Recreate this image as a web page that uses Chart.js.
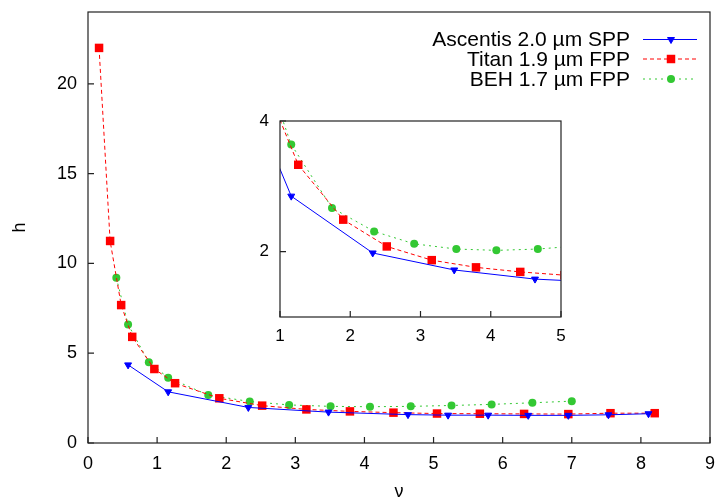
<!DOCTYPE html>
<html lang="en">
<head>
<meta charset="UTF-8">
<title>h vs reduced velocity</title>
<style>
  body { margin: 0; background: #fff; }
  #wrap { position: relative; width: 717px; height: 499px; }
  #main { position: absolute; left: 0; top: 0; }
  #inset { position: absolute; left: 240px; top: 110px; }
</style>
</head>
<body>
<div id="wrap">
  <canvas id="main" width="717" height="499"></canvas>
  <canvas id="inset" width="330" height="240"></canvas>
</div>

<script src="https://cdn.jsdelivr.net/npm/chart.js"></script>
<script>
  // values
  const ascentisX = [0.58, 1.16, 2.32, 3.48, 4.63, 5.21, 5.79, 6.37, 6.95, 7.53, 8.11];
  const ascentisH = [4.35, 2.85, 1.98, 1.72, 1.58, 1.55, 1.55, 1.54, 1.54, 1.57, 1.63];

  const titanX = [0.16, 0.32, 0.48, 0.64, 0.96, 1.26, 1.90, 2.52, 3.16, 3.79, 4.42, 5.05, 5.67, 6.31, 6.95, 7.56, 8.20];
  const titanH = [22.0, 11.25, 7.68, 5.91, 4.12, 3.33, 2.49, 2.08, 1.87, 1.76, 1.69, 1.64, 1.63, 1.62, 1.61, 1.66, 1.66];

  const behX = [0.41, 0.58, 0.88, 1.16, 1.74, 2.34, 2.91, 3.51, 4.08, 4.67, 5.26, 5.84, 6.43, 7.00];
  const behH = [9.2, 6.6, 4.5, 3.64, 2.67, 2.31, 2.12, 2.04, 2.02, 2.04, 2.09, 2.15, 2.24, 2.33];

  const seriesLabels = ['Ascentis 2.0 \u00b5m SPP', 'Titan 1.9 \u00b5m FPP', 'BEH 1.7 \u00b5m FPP'];

  const mainXTicks = [0, 1, 2, 3, 4, 5, 6, 7, 8, 9];
  const mainYTicks = [0, 5, 10, 15, 20];
  const insetXTicks = [1, 2, 3, 4, 5];
  const insetYTicks = [2, 4];

  Chart.defaults.font.family = "'Liberation Sans', Arial, sans-serif";
  Chart.defaults.color = '#000';

  function pts(xs, ys) {
    return xs.map((x, i) => ({ x: x, y: ys[i] }));
  }

  function makeDatasets() {
    return [
      {
        label: seriesLabels[0], data: pts(ascentisX, ascentisH),
        borderColor: '#0000ff', backgroundColor: '#0000ff', borderWidth: 1,
        pointStyle: 'triangle', pointRotation: 180, pointRadius: 4, pointBorderWidth: 1
      },
      {
        label: seriesLabels[1], data: pts(titanX, titanH),
        borderColor: '#ff0000', backgroundColor: '#ff0000', borderWidth: 1, borderDash: [4, 3],
        pointStyle: 'rect', pointRadius: 6, pointBorderWidth: 0
      },
      {
        label: seriesLabels[2], data: pts(behX, behH),
        borderColor: '#33c833', backgroundColor: '#33c833', borderWidth: 1, borderDash: [2, 4],
        pointStyle: 'circle', pointRadius: 4, pointBorderWidth: 0
      }
    ];
  }

  // box frame + inward tick marks
  const framePlugin = {
    id: 'frame',
    afterDraw(chart, args, opts) {
      const ctx = chart.ctx, a = chart.chartArea;
      const len = opts.tickLen || 6;
      ctx.save();
      ctx.strokeStyle = '#222';
      ctx.lineWidth = 1.2;
      ctx.setLineDash([]);
      ctx.beginPath();
      const xs = chart.scales.x, ys = chart.scales.y;
      xs.ticks.forEach((t, i) => {
        const px = xs.getPixelForTick(i);
        ctx.moveTo(px, a.bottom);
        ctx.lineTo(px, a.bottom - len);
      });
      ys.ticks.forEach((t, i) => {
        const py = ys.getPixelForTick(i);
        ctx.moveTo(a.left, py);
        ctx.lineTo(a.left + len, py);
      });
      ctx.stroke();
      ctx.strokeRect(a.left, a.top, a.right - a.left, a.bottom - a.top);
      ctx.restore();
    }
  };

  const titlesPlugin = {
    id: 'titles',
    afterDraw(chart) {
      const ctx = chart.ctx, a = chart.chartArea;
      ctx.save();
      ctx.fillStyle = '#000';
      ctx.font = "18px 'Liberation Sans', Arial, sans-serif";
      ctx.textAlign = 'center';
      ctx.textBaseline = 'middle';
      ctx.fillText('\u03bd', (a.left + a.right) / 2, 492);
      ctx.translate(20, (a.top + a.bottom) / 2);
      ctx.rotate(-Math.PI / 2);
      ctx.fillText('h', 0, 0);
      ctx.restore();
    }
  };

  const keyPlugin = {
    id: 'key',
    afterDraw(chart) {
      const ctx = chart.ctx;
      const rows = [39.5, 59, 79];
      ctx.save();
      chart.data.datasets.forEach((ds, i) => {
        const y = rows[i];
        ctx.fillStyle = '#000';
        ctx.font = "21px 'Liberation Sans', Arial, sans-serif";
        ctx.textAlign = 'right';
        ctx.textBaseline = 'middle';
        ctx.fillText(ds.label, 630, y + 1);
        ctx.strokeStyle = ds.borderColor;
        ctx.lineWidth = ds.borderWidth;
        ctx.setLineDash(ds.borderDash || []);
        ctx.beginPath();
        ctx.moveTo(643, y);
        ctx.lineTo(697, y);
        ctx.stroke();
        ctx.setLineDash([]);
        ctx.fillStyle = ds.backgroundColor;
        ctx.strokeStyle = ds.borderColor;
        Chart.helpers.drawPoint(ctx, {
          pointStyle: ds.pointStyle, radius: ds.pointRadius,
          rotation: ds.pointRotation || 0, borderWidth: ds.pointBorderWidth
        }, 671, y);
      });
      ctx.restore();
    }
  };

  function axis(min, max, ticks, size, pad, fit) {
    return {
      type: 'linear', min: min, max: max,
      afterBuildTicks: s => { s.ticks = ticks.map(v => ({ value: v })); },
      afterFit: s => {
        fit(s);
        s.paddingTop = 0; s.paddingBottom = 0; s.paddingLeft = 0; s.paddingRight = 0;
      },
      grid: { display: false, drawTicks: false },
      border: { display: false },
      ticks: { padding: pad, font: { size: size }, maxRotation: 0, autoSkip: false }
    };
  }

  new Chart(document.getElementById('main'), {
    type: 'line',
    data: { datasets: makeDatasets() },
    options: {
      responsive: false, animation: false,
      layout: { padding: { top: 12, right: 7, left: 0, bottom: 0 } },
      plugins: { legend: { display: false }, tooltip: { enabled: false }, frame: { tickLen: 6 } },
      scales: {
        x: axis(0, 9, mainXTicks, 18, 10, s => { s.height = 56; }),
        y: axis(0, 24, mainYTicks, 18, 11, s => { s.width = 88; })
      }
    },
    plugins: [framePlugin, titlesPlugin, keyPlugin]
  });

  new Chart(document.getElementById('inset'), {
    type: 'line',
    data: { datasets: makeDatasets() },
    options: {
      responsive: false, animation: false,
      layout: { padding: { top: 11, right: 9, left: 0, bottom: 0 } },
      plugins: { legend: { display: false }, tooltip: { enabled: false }, frame: { tickLen: 6 } },
      scales: {
        x: axis(1, 5, insetXTicks, 17, 9, s => { s.height = 33; }),
        y: axis(1, 4, insetYTicks, 17, 11, s => { s.width = 40; })
      }
    },
    plugins: [framePlugin]
  });
</script>
</body>
</html>
